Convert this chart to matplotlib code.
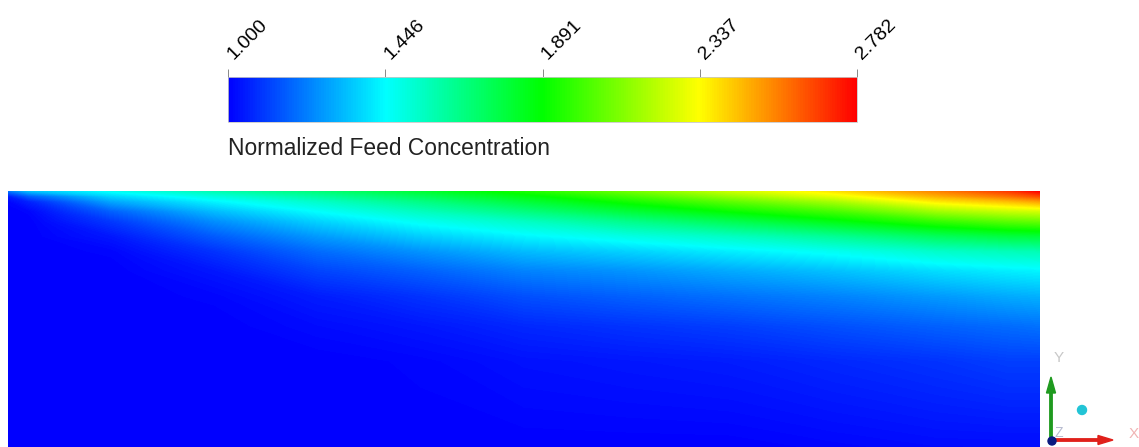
import matplotlib
matplotlib.use("Agg")
import matplotlib.pyplot as plt
import matplotlib.transforms as mtransforms
from matplotlib.colors import LinearSegmentedColormap, Normalize
from matplotlib.cm import ScalarMappable
from matplotlib.patches import Circle
import numpy as np

plt.rcParams["font.family"] = ["Liberation Sans", "DejaVu Sans"]

# streamwise position along the membrane, x / L
x_pos = [0.0, 0.02, 0.1, 0.2, 0.3, 0.4, 0.5, 0.6, 0.7, 0.8, 0.9, 0.97, 1.0]
# distance from the membrane surface, y / H (visible part of the channel)
y_dist = [0.0, 0.02, 0.04, 0.078, 0.117, 0.176, 0.234, 0.31, 0.41, 0.527, 0.664, 1.0]

# normalized feed concentration c / c0, one wall-normal profile per x_pos
conc_profiles = [
    [1.20, 1.05, 1.01, 1.00, 1.00, 1.00, 1.00, 1.00, 1.00, 1.00, 1.00, 1.00],
    [1.33, 1.16, 1.06, 1.01, 1.00, 1.00, 1.00, 1.00, 1.00, 1.00, 1.00, 1.00],
    [1.46, 1.37, 1.29, 1.17, 1.10, 1.04, 1.01, 1.00, 1.00, 1.00, 1.00, 1.00],
    [1.58, 1.50, 1.43, 1.33, 1.25, 1.16, 1.09, 1.04, 1.01, 1.00, 1.00, 1.00],
    [1.68, 1.61, 1.54, 1.45, 1.37, 1.27, 1.19, 1.12, 1.05, 1.02, 1.00, 1.00],
    [1.80, 1.73, 1.66, 1.56, 1.47, 1.36, 1.26, 1.17, 1.09, 1.04, 1.01, 1.00],
    [1.93, 1.86, 1.79, 1.67, 1.55, 1.43, 1.33, 1.23, 1.14, 1.07, 1.03, 1.00],
    [2.08, 2.00, 1.92, 1.79, 1.65, 1.49, 1.37, 1.26, 1.17, 1.09, 1.04, 1.00],
    [2.24, 2.15, 2.05, 1.90, 1.75, 1.55, 1.42, 1.30, 1.20, 1.11, 1.05, 1.00],
    [2.38, 2.29, 2.18, 2.01, 1.86, 1.63, 1.47, 1.34, 1.23, 1.14, 1.07, 1.01],
    [2.55, 2.47, 2.37, 2.17, 1.98, 1.73, 1.54, 1.39, 1.27, 1.17, 1.09, 1.02],
    [2.68, 2.58, 2.45, 2.24, 2.05, 1.78, 1.57, 1.42, 1.30, 1.19, 1.11, 1.02],
    [2.782, 2.65, 2.50, 2.26, 2.07, 1.79, 1.58, 1.43, 1.31, 1.20, 1.11, 1.02],
]

cbar_ticks = [1.000, 1.446, 1.891, 2.337, 2.782]
cbar_label = "Normalized Feed Concentration"

W, H = 1139, 447
fig = plt.figure(figsize=(W / 100, H / 100), dpi=100)
fig.patch.set_facecolor("white")

# blue -> cyan -> green -> yellow -> red
cmap = LinearSegmentedColormap.from_list(
    "rainbow_uniform", ["#0000ff", "#00ffff", "#00ff00", "#ffff00", "#ff0000"], N=256)
norm = Normalize(cbar_ticks[0], cbar_ticks[-1])

# ── concentration field (membrane at the top edge) ──
ax = fig.add_axes([8 / W, 0, (1040 - 8) / W, (H - 191) / H])
X, Y = np.meshgrid(x_pos, 1.0 - np.array(y_dist))
Z = np.array(conc_profiles).T
levels = np.linspace(norm.vmin, norm.vmax, 257)
ax.contourf(X, Y, Z, levels=levels, cmap=cmap, norm=norm,
            extend="both", antialiased=False)
ax.set_xlim(0, 1)
ax.set_ylim(0, 1)
ax.axis("off")

# ── colour legend ──
cax = fig.add_axes([228 / W, (H - 122) / H, (857 - 228) / W, 45 / H])
cb = fig.colorbar(ScalarMappable(norm=norm, cmap=cmap), cax=cax,
                  orientation="horizontal", ticks=cbar_ticks)
cax.xaxis.set_ticks_position("top")
cax.tick_params(axis="x", length=6, width=0.7, color="#888888",
                labelsize=14, pad=3)
cax.set_xticklabels([f"{t:.3f}" for t in cbar_ticks], rotation=45,
                    ha="left", va="bottom", rotation_mode="anchor")
# nudge the slanted labels so the first digit sits over its tick
shift = mtransforms.ScaledTranslation(0.08, 0.02, fig.dpi_scale_trans)
for lab in cax.get_xticklabels():
    lab.set_transform(lab.get_transform() + shift)
cb.outline.set_edgecolor("#c8c8c8")
cb.outline.set_linewidth(0.6)
fig.text(228 / W, (H - 155) / H, cbar_label, fontsize=16.4,
         ha="left", va="baseline", color="#222222")

# ── orientation triad, in pixel units ──
ov = fig.add_axes([0, 0, 1, 1])
ov.set_xlim(0, W)
ov.set_ylim(H, 0)
ov.axis("off")
ov.arrow(1051, 440, 0, -63, width=2.4, head_width=9, head_length=16,
         length_includes_head=True, color="#1f9a1f", zorder=3)
ov.arrow(1051, 440, 62, 0, width=2.4, head_width=9, head_length=15,
         length_includes_head=True, color="#e0201a", zorder=3)
ov.add_patch(Circle((1052, 441), 4, color="#0b1a80", zorder=4))
ov.add_patch(Circle((1082, 410), 4.5, color="#22c4d6", zorder=4))
ov.text(1059, 358, "Y", fontsize=11, color="#c8c8c8", ha="center", va="center")
ov.text(1134, 434, "X", fontsize=11, color="#f0b4b4", ha="center", va="center")
ov.text(1059, 433, "Z", fontsize=10, color="#b8bcd0", ha="center", va="center",
        zorder=2)

fig.savefig("out.png", dpi=100, facecolor="white")
